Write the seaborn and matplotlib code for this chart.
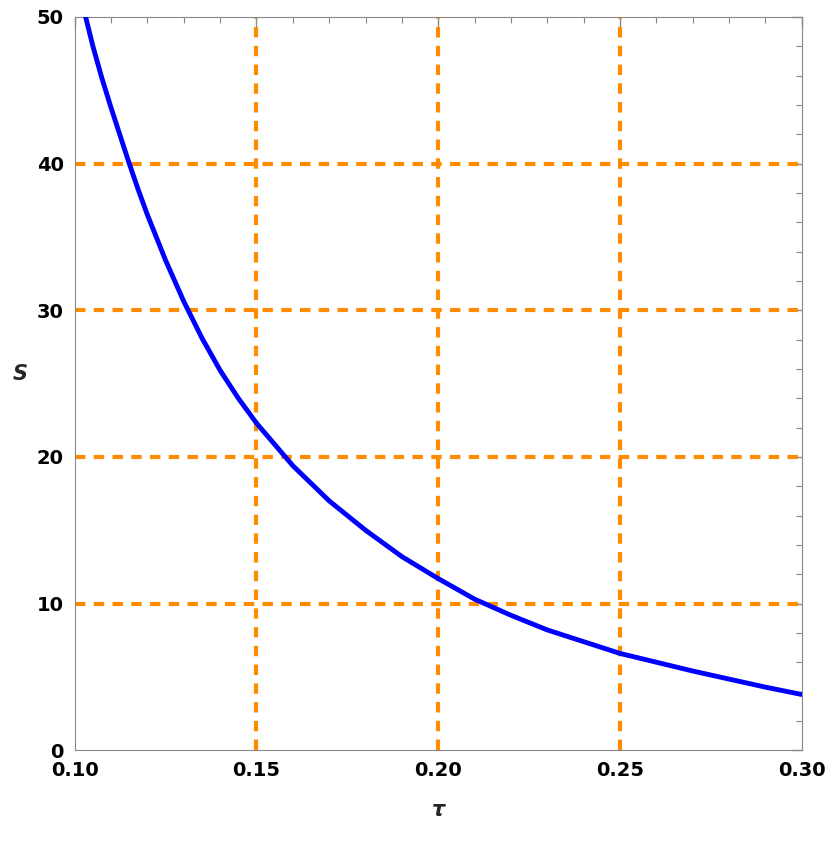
import matplotlib
matplotlib.use("Agg")
import matplotlib.pyplot as plt
import seaborn as sns
from matplotlib.ticker import MultipleLocator, FormatStrFormatter

sns.set_style("white")
plt.rcParams["font.family"] = ["DejaVu Sans"]

# values
tau = [0.103, 0.105, 0.1075, 0.110, 0.1125, 0.115, 0.1175, 0.120, 0.125, 0.130,
       0.135, 0.140, 0.145, 0.150, 0.160, 0.170, 0.180, 0.190, 0.200, 0.210,
       0.220, 0.230, 0.240, 0.250, 0.260, 0.270, 0.280, 0.290, 0.300]
s_vals = [50.0, 48.0, 45.8, 43.8, 41.9, 40.0, 38.2, 36.5, 33.4, 30.6,
          28.1, 25.9, 24.0, 22.3, 19.4, 17.0, 15.0, 13.2, 11.7, 10.3,
          9.2, 8.2, 7.4, 6.6, 6.0, 5.4, 4.85, 4.3, 3.8]
grid_x = [0.15, 0.20, 0.25]
grid_y = [10, 20, 30, 40]

fig = plt.figure(figsize=(8.3, 8.42), dpi=100)
ax = fig.add_axes([0.09, 0.109, 0.876, 0.871])

orange = "#ff8c00"
for gx in grid_x:
    ax.axvline(gx, color=orange, lw=3, ls=(0, (2.5, 2.0)), zorder=1)
for gy in grid_y:
    ax.axhline(gy, color=orange, lw=3, ls=(0, (2.5, 2.0)), zorder=1)

sns.lineplot(x=tau, y=s_vals, ax=ax, color="#0000ff", lw=3.5, zorder=3)

ax.set_xlim(0.10, 0.30)
ax.set_ylim(0, 50)
ax.xaxis.set_major_locator(MultipleLocator(0.05))
ax.xaxis.set_minor_locator(MultipleLocator(0.01))
ax.yaxis.set_major_locator(MultipleLocator(10))
ax.yaxis.set_minor_locator(MultipleLocator(2))
ax.xaxis.set_major_formatter(FormatStrFormatter("%.2f"))
ax.tick_params(which="both", direction="in", top=True, right=True, colors="#888888",
               labelcolor="black", labelsize=14)
ax.tick_params(which="major", length=8, width=1)
ax.tick_params(which="minor", length=4, width=0.8)
ax.tick_params(axis="x", which="major", pad=8)
ax.tick_params(axis="y", which="major", pad=8)
for lbl in ax.get_xticklabels() + ax.get_yticklabels():
    lbl.set_fontweight("bold")
for sp in ax.spines.values():
    sp.set_color("#888888")

ax.set_xlabel("τ", fontsize=15, fontweight="bold", fontstyle="italic", labelpad=14)
ax.set_ylabel("S", fontsize=15, fontweight="bold", fontstyle="italic", rotation=0, labelpad=12)

fig.savefig("out.png", dpi=100)
